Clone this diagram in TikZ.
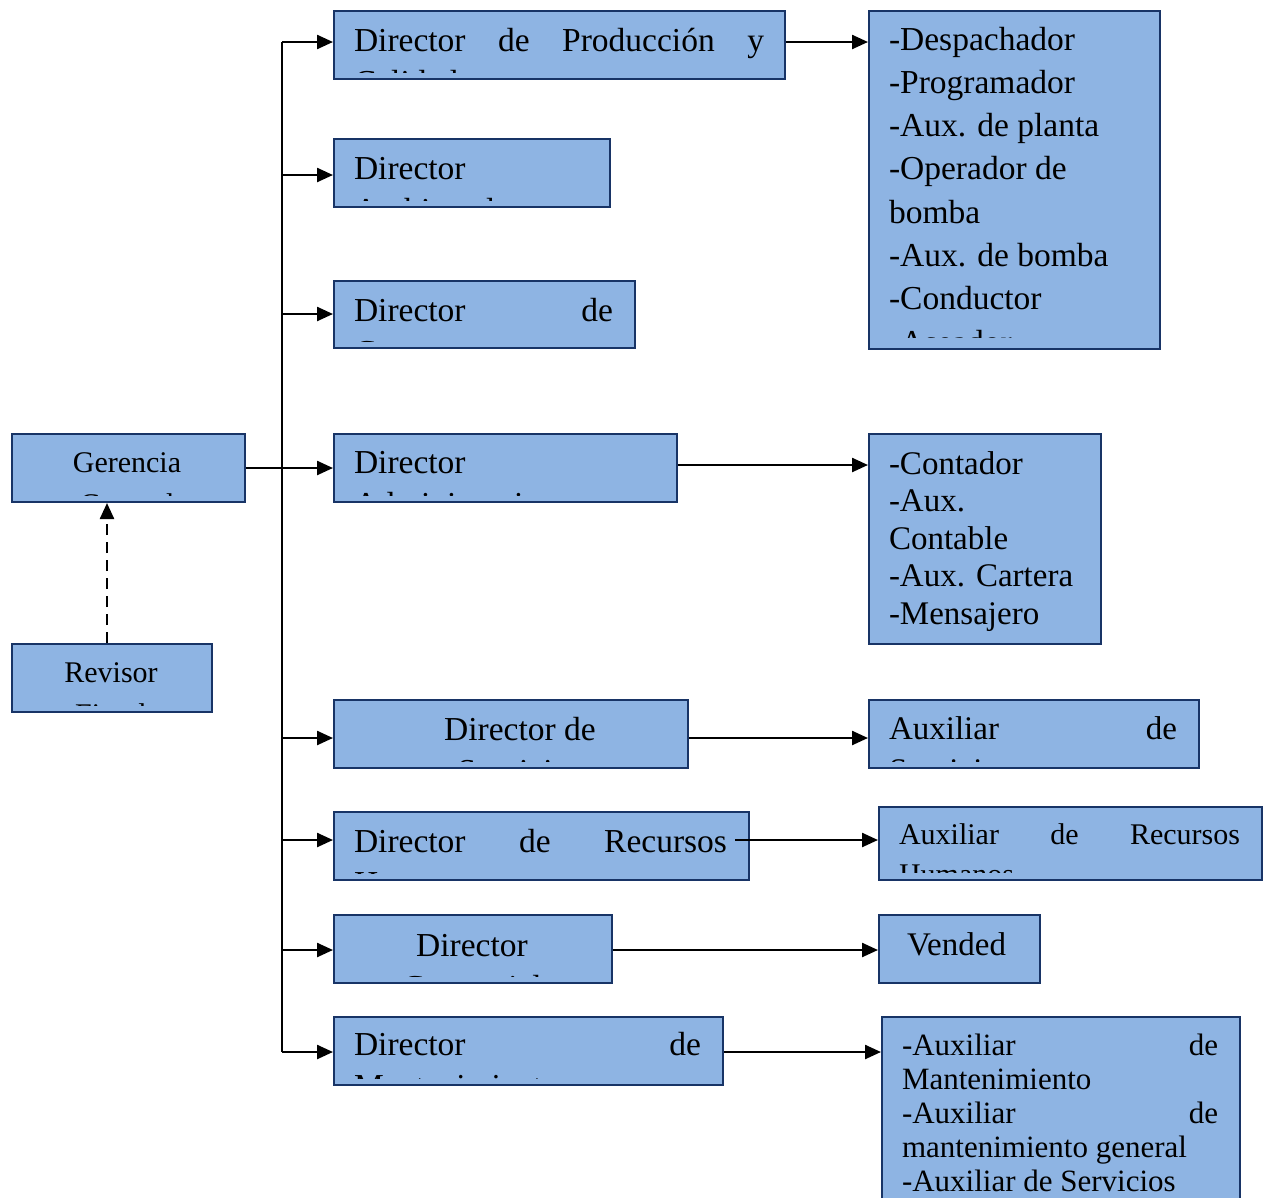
\documentclass[tikz,border=0pt]{standalone}
\usepackage{fontspec}
\setmainfont{Liberation Serif}
\usetikzlibrary{arrows.meta,calc}

\definecolor{boxfill}{RGB}{142,180,227}
\definecolor{boxline}{RGB}{24,52,102}

% a stack of lines with a fixed line pitch; its baseline is the first line's
\newcommand{\lns}[2]{\vtop{\baselineskip=#1pt\lineskiplimit=-1000pt\lineskip=0pt #2}}
% text of a box, clipped a little above the box's lower edge
\newcommand{\boxtext}[5]{%
  \begin{scope}
    \clip (#1.north west) rectangle ([yshift=#2pt]#1.south east);
    \node[txt] (#3) at #4 {#5};
  \end{scope}}

\begin{document}
\begin{tikzpicture}[x=1pt,y=-1pt,
  box/.style={draw=boxline, fill=boxfill, line width=2pt, inner sep=0pt,
              anchor=north west},
  txt/.style={anchor=base west, inner sep=0pt, outer sep=0pt},
  link/.style={line width=2.4pt, draw=black},
  arr/.style={link, -{Triangle[length=16pt,width=14pt]}},
  dash line/.style={arr, dash pattern=on 11pt off 7pt}]

\useasboundingbox (0,0) rectangle (1269,1197);
\fill[white] (0,0) rectangle (1269,1197);

% ---- top management ----
\node[box, minimum width=233, minimum height=68] (ger) at (11,433) {};
\node[box, minimum width=200, minimum height=68] (rev) at (11,643) {};

% ---- directors ----
\node[box, minimum width=451, minimum height=68] (b1) at (333,10) {};
\node[box, minimum width=276, minimum height=68] (b2) at (333,138) {};
\node[box, minimum width=301, minimum height=67] (b3) at (333,280) {};
\node[box, minimum width=343, minimum height=68] (b4) at (333,433) {};
\node[box, minimum width=354, minimum height=68] (b5) at (333,699) {};
\node[box, minimum width=415, minimum height=68] (b6) at (333,811) {};
\node[box, minimum width=278, minimum height=68] (b7) at (333,914) {};
\node[box, minimum width=389, minimum height=68] (b8) at (333,1016) {};

% ---- staff under each director ----
\node[box, minimum width=291, minimum height=338] (r1) at (868,10) {};
\node[box, minimum width=232, minimum height=210] (r2) at (868,433) {};
\node[box, minimum width=330, minimum height=68] (r3) at (868,699) {};
\node[box, minimum width=383, minimum height=73] (r4) at (878,806) {};
\node[box, minimum width=161, minimum height=68] (r5) at (878,914) {};
\node[box, minimum width=358, minimum height=200] (r6) at (881,1016) {};

% ---- texts ----
\boxtext{ger}{8}{tger}{(27,472)}{\fontsize{30}{40}\selectfont
  \lns{42}{\hbox to 200pt{\hfil Gerencia\hfil}\hbox to 200pt{\hfil General\hfil}}}
\boxtext{rev}{8}{trev}{(11,682)}{\fontsize{30}{40}\selectfont
  \lns{42}{\hbox to 200pt{\hfil Revisor\hfil}\hbox to 200pt{\hfil Fiscal\hfil}}}

\boxtext{b1}{8}{tb1}{(354,51)}{\fontsize{33.5}{40}\selectfont
  \lns{42}{\hbox to 410pt{Director\hfill de\hfill Producción\hfill y}\hbox{Calidad}}}
\boxtext{b2}{8}{tb2}{(354,179)}{\fontsize{33.5}{40}\selectfont
  \lns{42}{\hbox{Director}\hbox{Ambiental}}}
\boxtext{b3}{8}{tb3}{(354,321)}{\fontsize{33.5}{40}\selectfont
  \lns{42}{\hbox to 259pt{Director\hfill de}\hbox{Compras}}}
\boxtext{b4}{8}{tb4}{(354,473)}{\fontsize{33.5}{40}\selectfont
  \lns{42}{\hbox{Director}\hbox{Administrativo}}}
\boxtext{b5}{8}{tb5}{(370,740)}{\fontsize{33.5}{40}\selectfont
  \lns{42}{\hbox to 300pt{\hfil Director de\hfil}\hbox to 300pt{\hfil Servicios\hfil}}}
\boxtext{b6}{8}{tb6}{(354,852)}{\fontsize{33.5}{40}\selectfont
  \lns{42}{\hbox to 373pt{Director\hfill de\hfill Recursos}\hbox{Humanos}}}
\boxtext{b7}{8}{tb7}{(372,956)}{\fontsize{33.5}{40}\selectfont
  \lns{42}{\hbox to 200pt{\hfil Director\hfil}\hbox to 200pt{\hfil Comercial\hfil}}}
\boxtext{b8}{8}{tb8}{(354,1055)}{\fontsize{33.5}{40}\selectfont
  \lns{42}{\hbox to 347pt{Director\hfill de}\hbox{Mantenimiento}}}

\boxtext{r1}{13}{tr1}{(889,50)}{\fontsize{33.5}{43.3}\selectfont
  \lns{43.3}{\hbox{-Despachador}\hbox{-Programador}\hbox{-Aux. de planta}%
    \hbox{-Operador de}\hbox{bomba}\hbox{-Aux. de bomba}\hbox{-Conductor}%
    \hbox{-Aseador}}}
\boxtext{r2}{8}{tr2}{(889,474)}{\fontsize{33}{37.5}\selectfont
  \lns{37.5}{\hbox{-Contador}\hbox{-Aux.}\hbox{Contable}\hbox{-Aux. Cartera}%
    \hbox{-Mensajero}}}
\boxtext{r3}{8}{tr3}{(889,739)}{\fontsize{33}{40}\selectfont
  \lns{42}{\hbox to 288pt{Auxiliar\hfill de}\hbox{Servicios}}}
\boxtext{r4}{9}{tr4}{(899,844)}{\fontsize{30}{39}\selectfont
  \lns{40}{\hbox to 341pt{Auxiliar\hfill de\hfill Recursos}\hbox{Humanos}}}
\boxtext{r5}{8}{tr5}{(907,955)}{\fontsize{33}{40}\selectfont
  \lns{42}{\hbox{Vended}\hbox{or}}}
\begin{scope}
  \clip (r6.north west) rectangle (r6.east |- 0,1191);
  \node[txt] (tr6) at (902,1055) {\fontsize{31}{34}\selectfont
    \lns{34}{\hbox to 316pt{-Auxiliar\hfill de}\hbox{Mantenimiento}%
      \hbox to 316pt{-Auxiliar\hfill de}\hbox{mantenimiento general}%
      \hbox{-Auxiliar de Servicios}\hbox{Generales}}};
\end{scope}

% ---- connectors ----
\coordinate (j1) at (282,42);
\coordinate (j2) at (282,175);
\coordinate (j3) at (282,314);
\coordinate (j4) at (282,465);
\coordinate (j5) at (282,738);
\coordinate (j6) at (282,840);
\coordinate (j7) at (282,950);
\coordinate (j8) at (282,1052);
\coordinate (d0) at (107,643);

\draw[link] (j1) -- (j8);
\draw[arr] (j1) -- (j1 -| b1.west);
\draw[arr] (j2) -- (j2 -| b2.west);
\draw[arr] (j3) -- (j3 -| b3.west);
\draw[arr] (ger.east) -- (b4.west);
\draw[arr] (j5) -- (j5 -| b5.west);
\draw[arr] (j6) -- (j6 -| b6.west);
\draw[arr] (j7) -- (j7 -| b7.west);
\draw[arr] (j8) -- (j8 -| b8.west);

\draw[arr] (b1.east |- j1) -- (r1.west |- j1);
\draw[arr] (b4.east |- j4) -- (r2.west |- j4);
\draw[arr] (b5.east |- j5) -- (r3.west |- j5);
\draw[arr] ([xshift=-15pt]b6.east |- j6) -- (r4.west |- j6);
\draw[arr] (b7.east |- j7) -- (r5.west |- j7);
\draw[arr] (b8.east |- j8) -- (r6.west |- j8);

\draw[dash line] (d0) -- (d0 |- ger.south);
\end{tikzpicture}
\end{document}
